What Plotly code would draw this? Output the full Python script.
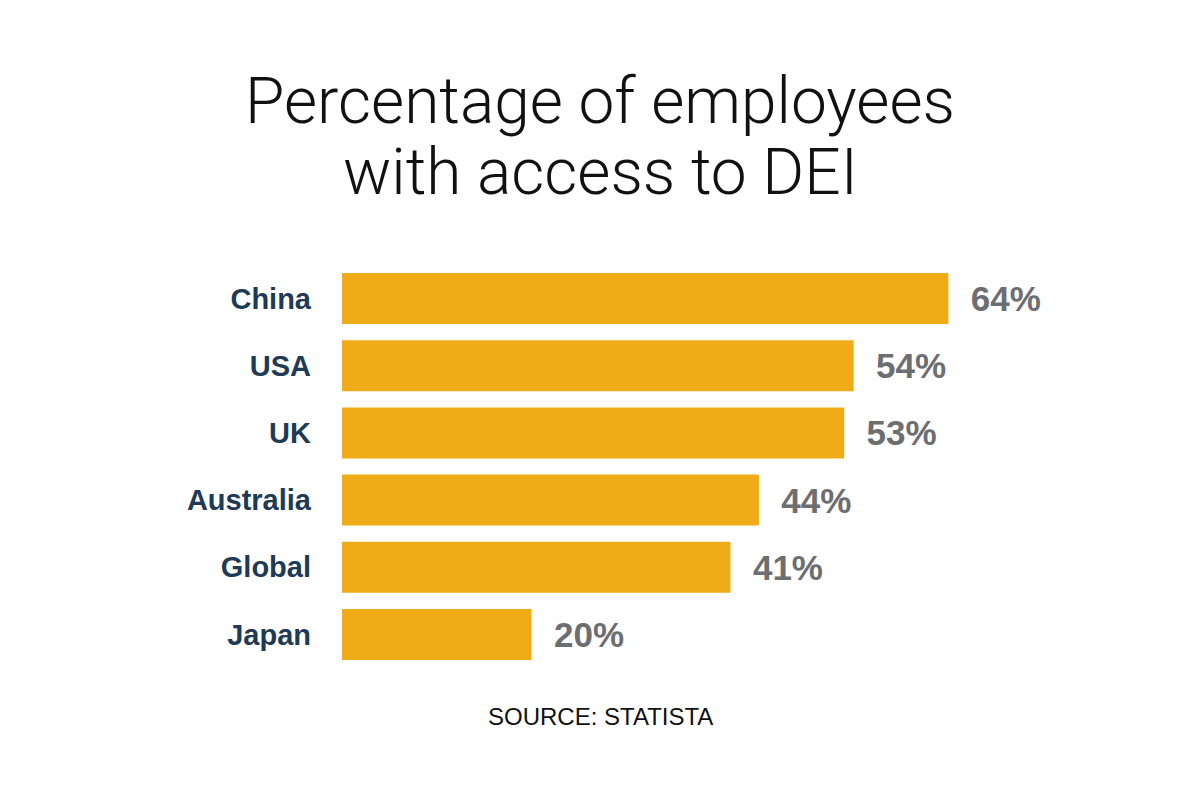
import plotly.graph_objects as go

# data
countries = ['China', 'USA', 'UK', 'Australia', 'Global', 'Japan']
share = [64, 54, 53, 44, 41, 20]
value_labels = ['64%', '54%', '53%', '44%', '41%', '20%']

BAR = '#F0AB19'
NAVY = '#1E3A56'
GREY = '#6D6E71'

# the page body adds an 8px offset, so margins are shifted by that
L, R, T, B = 334, 108, 257, 141
plot_w = 1200 - L - R
fig_center = (592 - L) / plot_w

fig = go.Figure(
    go.Bar(
        x=share,
        y=countries,
        orientation='h',
        marker=dict(color=BAR, line=dict(width=0)),
        text=value_labels,
        texttemplate='  %{text}',
        textposition='outside',
        textfont=dict(family='Liberation Sans, Arial', size=35, color=GREY, weight='bold'),
        constraintext='none',
        cliponaxis=False,
        hoverinfo='skip',
    )
)

fig.update_layout(
    width=1200,
    height=801,
    margin=dict(l=L, r=R, t=T, b=B),
    paper_bgcolor='white',
    plot_bgcolor='white',
    showlegend=False,
    bargap=0.24,
    xaxis=dict(
        range=[0, 80],
        visible=False,
        showgrid=False,
        zeroline=False,
    ),
    yaxis=dict(
        autorange='reversed',
        showgrid=False,
        zeroline=False,
        showline=False,
        ticks='',
        ticklabelstandoff=30,
        tickfont=dict(family='Liberation Sans, Arial', size=29, color=NAVY, weight='bold'),
    ),
)

# title in two lines, placed separately to control the line spacing
for line, ypos in [('Percentage of employees', 1.405), ('with access to DEI', 1.229)]:
    fig.add_annotation(
        text=line, x=fig_center, y=ypos, xref='paper', yref='paper',
        xanchor='center', yanchor='middle', showarrow=False,
        font=dict(family='Roboto, Liberation Sans', size=64, color='#111111', weight=300),
    )

fig.add_annotation(
    text='SOURCE: STATISTA', x=fig_center, y=-0.121, xref='paper', yref='paper',
    xanchor='center', yanchor='middle', showarrow=False,
    font=dict(family='Liberation Sans, Arial', size=24, color='#111111'),
)

fig.write_html('out.html')
